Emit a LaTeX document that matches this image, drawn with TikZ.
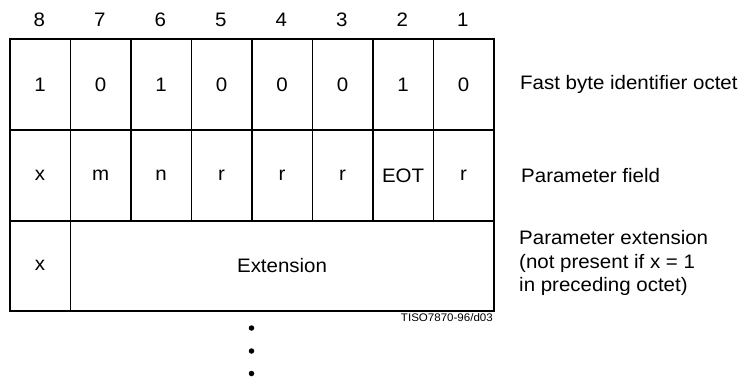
\documentclass[tikz,border=0pt]{standalone}
\usepackage{fontspec}
\setmainfont[FakeStretch=1.05]{Liberation Sans}
\begin{document}
\begin{tikzpicture}[x=1pt,y=-1pt,
  cell/.style={draw,line width=1.6pt,minimum width=60.5pt,minimum height=91pt,inner sep=0pt,anchor=north west},
  lbl/.style={font=\fontsize{19.5}{23}\selectfont,inner sep=0pt},
  side/.style={font=\fontsize{19.5}{23.5}\selectfont,inner sep=0pt,anchor=west,align=left},
  dotm/.style={fill,circle,inner sep=0pt,minimum size=5.5pt}]
\useasboundingbox (0,0) rectangle (743,377);
% bit numbers
\foreach \i/\n in {0/8,1/7,2/6,3/5,4/4,5/3,6/2,7/1}
  \node[lbl] (b\n) at ({9+60.5*\i+30.25},20) {\n};
% row 1
\foreach \i/\v [count=\k] in {0/1,1/0,2/1,3/0,4/0,5/0,6/1,7/0}
  \node[cell,lbl,minimum height=91pt] (r1c\k) at ({9+60.5*\i},38) {\v};
% row 2
\foreach \i/\v [count=\k] in {0/x,1/m,2/n,3/r,4/r,5/r,6/EOT,7/r}
  \node[cell,lbl,minimum height=91pt] (r2c\k) at ({9+60.5*\i},129) {\v};
% row 3
\node[cell,lbl,minimum height=90pt] (r3x) at (9,220) {x};
\node[cell,lbl,minimum height=90pt,minimum width=423.5pt] (r3e) at (69.5,220) {Extension};
% side labels
\node[side] (s1) at (520,84) {Fast byte identifier octet};
\node[side] (s2) at (521,176) {Parameter field};
\node[side] (s3) at (519,263) {Parameter extension\\(not present if x = 1\\in preceding octet)};
% figure id
\node[font=\fontsize{11}{13}\selectfont,inner sep=0pt,anchor=east] (fid) at (493,318) {TISO7870-96/d03};
% dots
\node[dotm] (d1) at (251.5,328) {};
\node[dotm] (d2) at (251.5,351) {};
\node[dotm] (d3) at (251.5,373.5) {};
\end{tikzpicture}
\end{document}
